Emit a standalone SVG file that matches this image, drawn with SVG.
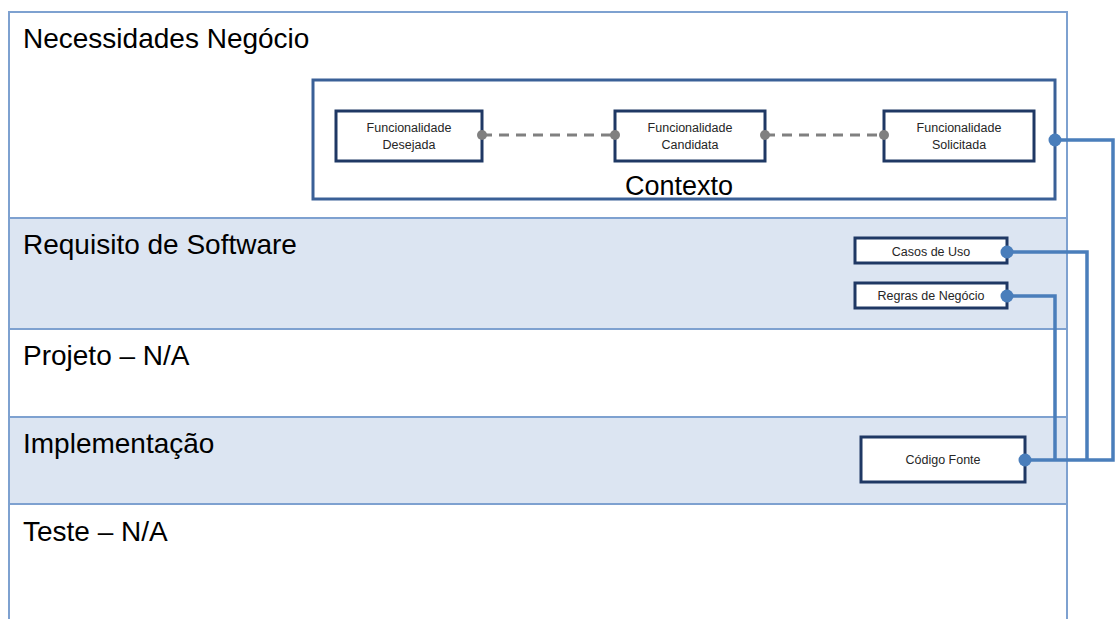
<svg xmlns="http://www.w3.org/2000/svg" width="1117" height="619" viewBox="0 0 1117 619">
<style>
.lane{stroke:#7EA1D0;stroke-width:2}
.shade{fill:#DCE5F2}
.white{fill:#FFFFFF}
.title{font-family:"Liberation Sans",Arial,sans-serif;font-size:28px;fill:#000}
.box{fill:#FFFFFF;stroke:#1F3864;stroke-width:3}
.lbl{font-family:"Liberation Sans",Arial,sans-serif;font-size:12.5px;fill:#262626;text-anchor:middle}
.dash{stroke:#808080;stroke-width:3;stroke-dasharray:10 7;fill:none}
.gdot{fill:#808080}
.conn{stroke:#4A7EBB;stroke-width:3.5;fill:none}
.bdot{fill:#4A7EBB}
</style>
<rect width="1117" height="619" fill="#FFFFFF"/>
<g id="lanes">
<rect class="white" x="9" y="12" width="1058" height="206"/>
<rect class="shade" x="9" y="218" width="1058" height="111"/>
<rect class="white" x="9" y="329" width="1058" height="88"/>
<rect class="shade" x="9" y="417" width="1058" height="87"/>
<rect class="white" x="9" y="504" width="1058" height="120"/>
<line class="lane" x1="9" y1="218" x2="1067" y2="218"/>
<line class="lane" x1="9" y1="329" x2="1067" y2="329"/>
<line class="lane" x1="9" y1="417" x2="1067" y2="417"/>
<line class="lane" x1="9" y1="504" x2="1067" y2="504"/>
<path class="lane" fill="none" d="M9 625 V12 H1067 V625"/>
<text class="title" x="23" y="48">Necessidades Negócio</text>
<text class="title" x="23" y="254">Requisito de Software</text>
<text class="title" x="23" y="365">Projeto – N/A</text>
<text class="title" x="23" y="453">Implementação</text>
<text class="title" x="23" y="541">Teste – N/A</text>
</g>
<g id="contexto">
<rect x="313" y="80" width="742" height="119" fill="#FFFFFF" stroke="#3A6097" stroke-width="3"/>
<text x="679" y="195" font-family="'Liberation Sans',Arial,sans-serif" font-size="27" text-anchor="middle" fill="#000">Contexto</text>
</g>
<g id="connectors">
<line class="dash" x1="482" y1="135" x2="615" y2="135"/>
<line class="dash" x1="765" y1="135" x2="884" y2="135"/>
<path class="conn" d="M1055 140 H1113 V460 H1025"/>
<path class="conn" d="M1007 252 H1087 V460"/>
<path class="conn" d="M1007 296 H1055 V460"/>
</g>
<g id="func-desejada">
<rect class="box" x="336" y="111" width="146" height="50"/>
<text class="lbl" x="409" y="132">Funcionalidade</text>
<text class="lbl" x="409" y="149">Desejada</text>
</g>
<g id="func-candidata">
<rect class="box" x="615" y="111" width="150" height="50"/>
<text class="lbl" x="690" y="132">Funcionalidade</text>
<text class="lbl" x="690" y="149">Candidata</text>
</g>
<g id="func-solicitada">
<rect class="box" x="884" y="111" width="150" height="50"/>
<text class="lbl" x="959" y="132">Funcionalidade</text>
<text class="lbl" x="959" y="149">Solicitada</text>
</g>
<g id="casos-de-uso">
<rect class="box" x="855" y="238" width="152" height="25"/>
<text class="lbl" x="931" y="256">Casos de Uso</text>
</g>
<g id="regras-de-negocio">
<rect class="box" x="855" y="283" width="152" height="25"/>
<text class="lbl" x="931" y="300">Regras de Negócio</text>
</g>
<g id="codigo-fonte">
<rect class="box" x="861" y="437" width="164" height="45"/>
<text class="lbl" x="943" y="464">Código Fonte</text>
</g>
<g id="connector-dots">
<circle class="bdot" cx="1055" cy="140" r="6.5"/>
<circle class="bdot" cx="1007" cy="252" r="6.5"/>
<circle class="bdot" cx="1007" cy="296" r="6.5"/>
<circle class="bdot" cx="1025" cy="460" r="6.5"/>
<circle class="gdot" cx="482" cy="135" r="5"/>
<circle class="gdot" cx="615" cy="135" r="5"/>
<circle class="gdot" cx="765" cy="135" r="5"/>
<circle class="gdot" cx="884" cy="135" r="5"/>
</g>
</svg>
